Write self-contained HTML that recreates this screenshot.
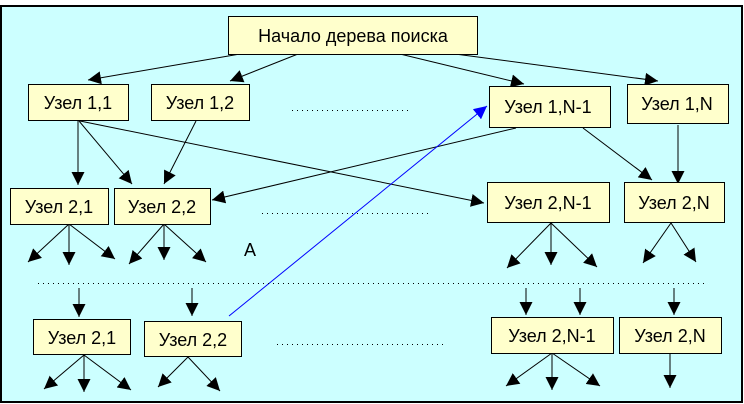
<!DOCTYPE html>
<html><head><meta charset="utf-8"><style>
html,body{margin:0;padding:0;background:#fff;width:744px;height:404px;overflow:hidden}
svg{display:block}
text{font-family:"Liberation Sans",sans-serif;font-size:18px;fill:#000}
</style></head><body>
<svg width="744" height="404" viewBox="0 0 744 404" xmlns="http://www.w3.org/2000/svg">
<defs>
<marker id="a" viewBox="0 0 10 10" refX="10" refY="5" markerWidth="13" markerHeight="13" markerUnits="userSpaceOnUse" orient="auto"><path d="M0,0L10,5L0,10z" fill="#000"/></marker>
<marker id="b" viewBox="0 0 10 10" refX="10" refY="5" markerWidth="13" markerHeight="13" markerUnits="userSpaceOnUse" orient="auto"><path d="M0,0L10,5L0,10z" fill="#00f"/></marker>
</defs>
<rect x="1" y="6" width="741" height="396" fill="#ccffff" stroke="#000" stroke-width="2"/>
<g stroke="#000" stroke-width="1" fill="none" marker-end="url(#a)">
<line x1="240" y1="54" x2="88" y2="80"/>
<line x1="298" y1="54" x2="230" y2="81"/>
<line x1="400" y1="54" x2="524" y2="84"/>
<line x1="455" y1="54" x2="658" y2="81"/>
<line x1="78" y1="121" x2="78" y2="185"/>
<line x1="79" y1="121" x2="132" y2="184"/>
<line x1="80" y1="121" x2="484" y2="203"/>
<line x1="196" y1="121" x2="164" y2="184"/>
<line x1="516" y1="128" x2="212" y2="200"/>
<line x1="583" y1="128" x2="652" y2="180"/>
<line x1="678" y1="125" x2="678" y2="184"/>
<line x1="69" y1="224" x2="28" y2="262"/>
<line x1="69" y1="224" x2="69" y2="265"/>
<line x1="69" y1="224" x2="115" y2="259"/>
<line x1="164" y1="224" x2="129" y2="264"/>
<line x1="164" y1="224" x2="164" y2="260"/>
<line x1="164" y1="224" x2="206" y2="262"/>
<line x1="551" y1="223" x2="507" y2="268"/>
<line x1="551" y1="223" x2="551" y2="265"/>
<line x1="551" y1="223" x2="597" y2="267"/>
<line x1="671" y1="223" x2="643" y2="263"/>
<line x1="671" y1="223" x2="696" y2="262"/>
<line x1="79" y1="288" x2="79" y2="317"/>
<line x1="192" y1="288" x2="192" y2="316"/>
<line x1="526" y1="288" x2="526" y2="315"/>
<line x1="580" y1="288" x2="580" y2="315"/>
<line x1="674" y1="288" x2="674" y2="315"/>
<line x1="84" y1="355" x2="44" y2="389"/>
<line x1="84" y1="355" x2="84" y2="392"/>
<line x1="84" y1="355" x2="131" y2="390"/>
<line x1="188" y1="357" x2="158" y2="387"/>
<line x1="188" y1="357" x2="220" y2="391"/>
<line x1="552" y1="353" x2="506" y2="386"/>
<line x1="552" y1="353" x2="552" y2="390"/>
<line x1="552" y1="353" x2="600" y2="386"/>
<line x1="670" y1="353" x2="670" y2="388"/>
</g>
<line x1="229" y1="316" x2="487" y2="106" stroke="#00f" stroke-width="1" marker-end="url(#b)"/>
<g stroke="#000" stroke-width="1" stroke-dasharray="1,4">
<line x1="292" y1="110.5" x2="410" y2="110.5"/>
<line x1="262" y1="213.5" x2="430" y2="213.5"/>
<line x1="38" y1="283.5" x2="706" y2="283.5"/>
<line x1="277" y1="344.5" x2="446" y2="344.5"/>
</g>
<g fill="#ffffcc" stroke="#000" stroke-width="1">
<rect x="228.5" y="16.5" width="249" height="38"/>
<rect x="28.5" y="84.5" width="100" height="36"/>
<rect x="151.5" y="84.5" width="98" height="36"/>
<rect x="489.5" y="86.5" width="121" height="41"/>
<rect x="627.5" y="84.5" width="101" height="39"/>
<rect x="10.5" y="188.5" width="98" height="36"/>
<rect x="114.5" y="188.5" width="96" height="36"/>
<rect x="487.5" y="182.5" width="122" height="40"/>
<rect x="624.5" y="182.5" width="100" height="40"/>
<rect x="33.5" y="319.5" width="97" height="35"/>
<rect x="144.5" y="321.5" width="97" height="35"/>
<rect x="491.5" y="317.5" width="122" height="36"/>
<rect x="619.5" y="317.5" width="102" height="36"/>
</g>
<g text-anchor="middle">
<text x="353" y="42">Начало дерева поиска</text>
<text x="78" y="109">Узел 1,1</text>
<text x="200" y="109">Узел 1,2</text>
<text x="548" y="113">Узел 1,N-1</text>
<text x="677" y="110">Узел 1,N</text>
<text x="59" y="213">Узел 2,1</text>
<text x="162" y="213">Узел 2,2</text>
<text x="548" y="209">Узел 2,N-1</text>
<text x="674" y="209">Узел 2,N</text>
<text x="82" y="344">Узел 2,1</text>
<text x="193" y="346">Узел 2,2</text>
<text x="552" y="342">Узел 2,N-1</text>
<text x="670" y="342">Узел 2,N</text>
<text x="250" y="256">А</text>
</g>
</svg>
</body></html>
